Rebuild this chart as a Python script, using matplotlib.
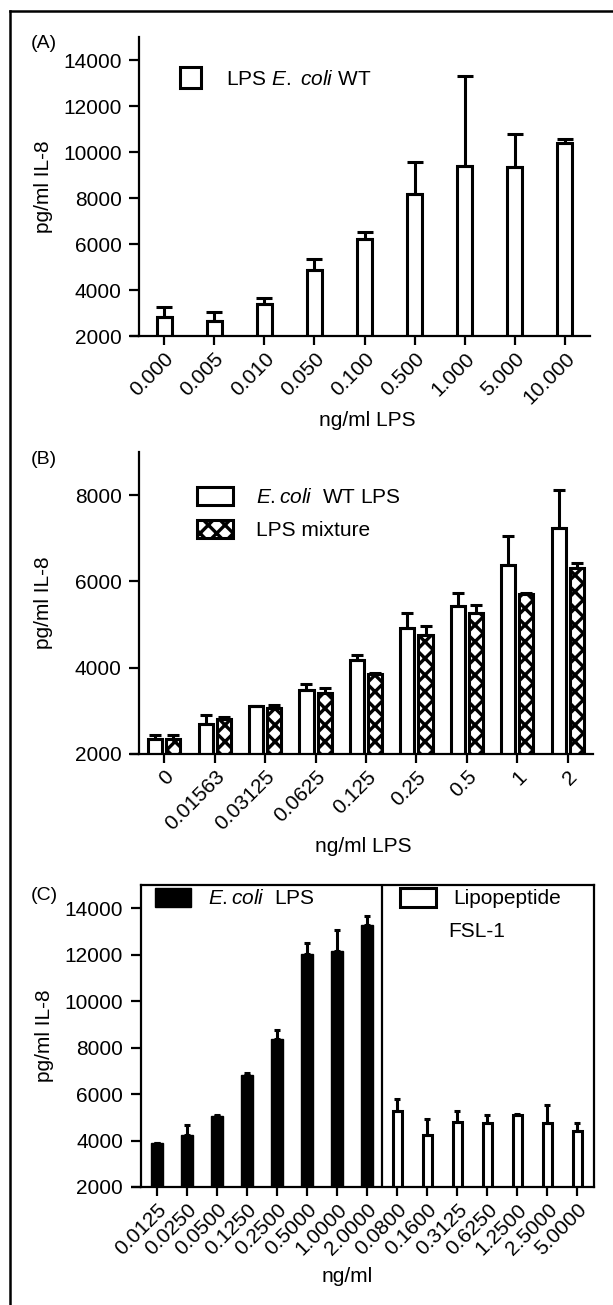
import matplotlib
matplotlib.use("Agg")
import matplotlib.pyplot as plt
from matplotlib.lines import Line2D
from matplotlib.patches import Patch
import numpy as np

plt.rcParams['font.family'] = ['Liberation Sans', 'DejaVu Sans']
plt.rcParams['mathtext.fontset'] = 'custom'
plt.rcParams['mathtext.rm'] = 'Liberation Sans'
plt.rcParams['mathtext.it'] = 'Liberation Sans:italic'
plt.rcParams['hatch.linewidth'] = 2.4

# ---------------- data ----------------
A_labels = ['0.000', '0.005', '0.010', '0.050', '0.100', '0.500', '1.000', '5.000', '10.000']
A_mean = [2810, 2670, 3390, 4870, 6200, 8160, 9390, 9360, 10380]
A_err = [440, 360, 280, 460, 310, 1410, 3910, 1440, 170]

B_labels = ['0', '0.01563', '0.03125', '0.0625', '0.125', '0.25', '0.5', '1', '2']
B_wt = [2350, 2700, 3110, 3490, 4190, 4910, 5430, 6370, 7240]
B_wt_err = [100, 200, 0, 130, 110, 360, 310, 680, 890]
B_mix = [2350, 2810, 3060, 3420, 3860, 4750, 5270, 5700, 6320]
B_mix_err = [100, 50, 80, 110, 20, 210, 180, 40, 110]

C_lps_labels = ['0.0125', '0.0250', '0.0500', '0.1250', '0.2500', '0.5000', '1.0000', '2.0000']
C_lps = [3880, 4250, 5040, 6830, 8350, 12030, 12140, 13280]
C_lps_err = [0, 430, 80, 70, 420, 480, 920, 370]
C_fsl_labels = ['0.0800', '0.1600', '0.3125', '0.6250', '1.2500', '2.5000', '5.0000']
C_fsl = [5260, 4220, 4800, 4750, 5090, 4750, 4420]
C_fsl_err = [540, 710, 460, 350, 50, 760, 330]

FS = 15
LW_AX = 1.6
LW_BAR = 2.2
HATCH = 'xx'

W, H = 613, 1305
fig = plt.figure(figsize=(W / 100, H / 100), dpi=100)


def ax_rect(x0, x1, ytop, ybot):
    return [x0 / W, 1 - ybot / H, (x1 - x0) / W, (ybot - ytop) / H]


def style(ax, spines=('left', 'bottom')):
    for s in ['left', 'right', 'top', 'bottom']:
        ax.spines[s].set_visible(s in spines)
        ax.spines[s].set_linewidth(LW_AX)
    ax.tick_params(axis='y', direction='out', length=7.5, width=LW_AX,
                   labelsize=FS, pad=5)
    ax.tick_params(axis='x', direction='out', length=6.5, width=LW_AX,
                   labelsize=FS, pad=3)
    # x-axis line extends slightly left of the y-axis
    ax.plot([-0.02, 0], [0, 0], transform=ax.transAxes, color='black',
            lw=LW_AX, clip_on=False, solid_capstyle='butt')


# ---------------- panel A ----------------
axA = fig.add_axes(ax_rect(139, 590, 37, 336))
xA = np.arange(len(A_labels))
axA.bar(xA, A_mean, width=0.30, color='white', edgecolor='black',
        linewidth=LW_BAR, zorder=2)
axA.errorbar(xA, A_mean, yerr=[np.zeros(len(A_err)), A_err], fmt='none',
             ecolor='black', elinewidth=LW_BAR, capsize=5.5, capthick=LW_BAR, zorder=3)
axA.set_xlim(-0.5, len(A_labels) - 0.5)
axA.set_ylim(2000, 15000)
axA.set_yticks(np.arange(2000, 14001, 2000))
axA.set_xticks(xA)
axA.set_xticklabels(A_labels, rotation=45, ha='right', rotation_mode='anchor')
style(axA)
axA.set_ylabel('pg/ml IL-8', fontsize=FS)
axA.yaxis.set_label_coords(-0.19, 0.5)
axA.set_xlabel('ng/ml LPS', fontsize=FS)
axA.xaxis.set_label_coords(0.507, -0.25)
hA = [Patch(facecolor='white', edgecolor='black', linewidth=LW_BAR)]
axA.legend(hA, ['LPS $\\it{E.}$ $\\it{coli}$ WT'], loc='upper left',
           bbox_to_anchor=(0.092, 0.90), frameon=False, fontsize=FS,
           handlelength=1.0, handleheight=1.2, handletextpad=1.2, borderpad=0,
           borderaxespad=0)

# ---------------- panel B ----------------
axB = fig.add_axes(ax_rect(139, 593, 452, 754))
xB = np.arange(len(B_labels))
off = 0.18
axB.bar(xB - off, B_wt, width=0.28, color='white', edgecolor='black',
        linewidth=LW_BAR, zorder=2)
axB.bar(xB + off, B_mix, width=0.28, color='white', edgecolor='black',
        hatch=HATCH, linewidth=LW_BAR, zorder=2)
axB.errorbar(xB - off, B_wt, yerr=[np.zeros(len(B_wt)), B_wt_err], fmt='none',
             ecolor='black', elinewidth=LW_BAR, capsize=4.5, capthick=LW_BAR, zorder=3)
axB.errorbar(xB + off, B_mix, yerr=[np.zeros(len(B_mix)), B_mix_err], fmt='none',
             ecolor='black', elinewidth=LW_BAR, capsize=4.5, capthick=LW_BAR, zorder=3)
axB.set_xlim(-0.5, len(B_labels) - 0.5)
axB.set_ylim(2000, 9000)
axB.set_yticks([2000, 4000, 6000, 8000])
axB.set_xticks(xB)
axB.set_xticklabels(B_labels, rotation=45, ha='right', rotation_mode='anchor')
style(axB)
axB.set_ylabel('pg/ml IL-8', fontsize=FS)
axB.yaxis.set_label_coords(-0.19, 0.5)
axB.set_xlabel('ng/ml LPS', fontsize=FS)
axB.xaxis.set_label_coords(0.494, -0.275)
hB = [Patch(facecolor='white', edgecolor='black', linewidth=LW_BAR),
      Patch(facecolor='white', edgecolor='black', hatch=HATCH, linewidth=LW_BAR)]
axB.legend(hB, ['$\\it{E.coli}$  WT LPS', 'LPS mixture'], loc='upper left',
           bbox_to_anchor=(0.127, 0.885), frameon=False, fontsize=FS,
           handlelength=1.75, handleheight=1.0, handletextpad=1.1, borderpad=0,
           borderaxespad=0, labelspacing=0.6)

# ---------------- panel C ----------------
axC = fig.add_axes(ax_rect(140.5, 594, 885, 1187))
nL = len(C_lps)
xL = np.arange(nL)
xF = np.arange(len(C_fsl)) + nL
axC.bar(xL, C_lps, width=0.40, color='black', edgecolor='black',
        linewidth=1.0, zorder=2)
axC.bar(xF, C_fsl, width=0.30, color='white', edgecolor='black',
        linewidth=LW_BAR, zorder=2)
axC.errorbar(xL, C_lps, yerr=[np.zeros(nL), C_lps_err], fmt='none',
             ecolor='black', elinewidth=LW_BAR, capsize=2.5, capthick=LW_BAR, zorder=3)
axC.errorbar(xF, C_fsl, yerr=[np.zeros(len(C_fsl)), C_fsl_err], fmt='none',
             ecolor='black', elinewidth=LW_BAR, capsize=2.5, capthick=LW_BAR, zorder=3)
axC.axvline(nL - 0.5, color='black', lw=LW_AX, zorder=1)
axC.set_xlim(-0.55, nL + len(C_fsl) - 0.45)
axC.set_ylim(2000, 15000)
axC.set_yticks(np.arange(2000, 14001, 2000))
axC.set_xticks(np.concatenate([xL, xF]))
axC.set_xticklabels(C_lps_labels + C_fsl_labels, rotation=45, ha='right',
                    rotation_mode='anchor')
style(axC, spines=('left', 'bottom', 'top', 'right'))
axC.set_ylabel('pg/ml IL-8', fontsize=FS)
axC.yaxis.set_label_coords(-0.19, 0.5)
axC.set_xlabel('ng/ml', fontsize=FS)
axC.xaxis.set_label_coords(0.455, -0.265)
legL = axC.legend([Patch(facecolor='black', edgecolor='black')],
                  ['$\\it{E.coli}$  LPS'], loc='upper left',
                  bbox_to_anchor=(0.032, 0.99), frameon=False, fontsize=FS,
                  handlelength=1.75, handleheight=1.0, handletextpad=0.8,
                  borderpad=0, borderaxespad=0)
axC.add_artist(legL)
axC.legend([Patch(facecolor='white', edgecolor='black', linewidth=LW_BAR)],
           ['Lipopeptide'], loc='upper left', bbox_to_anchor=(0.572, 0.99),
           frameon=False, fontsize=FS, handlelength=1.75, handleheight=1.0,
           handletextpad=0.8, borderpad=0, borderaxespad=0)
axC.text(0.679, 0.845, 'FSL-1', transform=axC.transAxes, fontsize=FS,
         ha='left', va='center')

# ---------------- panel letters & frame ----------------
fig.text(31 / W, 1 - 44 / H, '(A)', fontsize=14, ha='left', va='center')
fig.text(31 / W, 1 - 460 / H, '(B)', fontsize=14, ha='left', va='center')
fig.text(31 / W, 1 - 895 / H, '(C)', fontsize=14, ha='left', va='center')
fig.add_artist(Line2D([10 / W, 10 / W], [0, 1 - 11 / H], color='black', lw=1.8,
                      transform=fig.transFigure))
fig.add_artist(Line2D([10 / W, 1], [1 - 11 / H, 1 - 11 / H], color='black', lw=1.8,
                      transform=fig.transFigure))

fig.savefig('out.png', dpi=100, facecolor='white')
